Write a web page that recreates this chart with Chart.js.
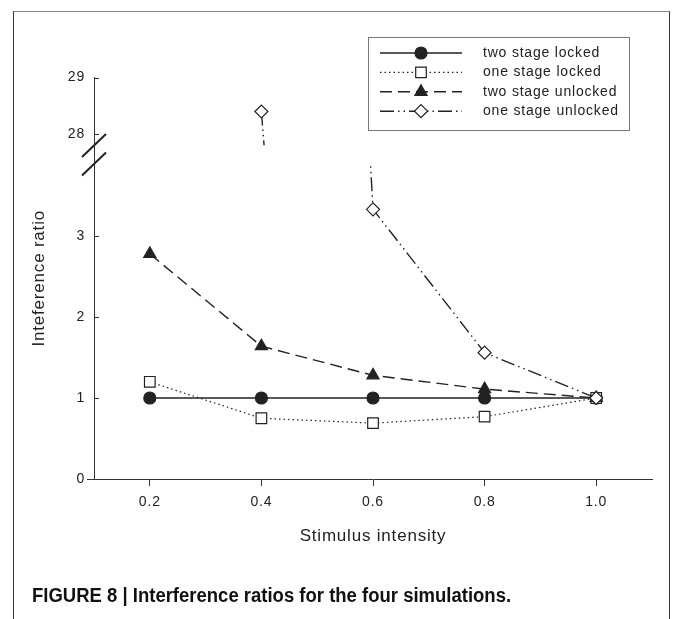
<!DOCTYPE html>
<html>
<head>
<meta charset="utf-8">
<script src="https://cdn.jsdelivr.net/npm/chart.js@4.4.1/dist/chart.umd.min.js"></script>
<style>
body { margin: 0; background: #fff; }
#wrap { position: relative; width: 673px; height: 619px; overflow: hidden; }
#frame { position: absolute; left: 13px; top: 11px; width: 655px; height: 640px; border: 1.5px solid #333; border-top-color: #888; }
canvas { position: absolute; left: 0; top: 0; }
#caption { position: absolute; left: 32px; top: 584px; font: bold 20px "Liberation Sans", Arial, sans-serif; color: #111; white-space: nowrap; transform: scaleX(0.925); transform-origin: 0 0; }
</style>
</head>
<body>
<div id="wrap">
  <div id="frame"></div>
  <canvas id="myChart" width="673" height="619"></canvas>
  <div id="caption">FIGURE 8 | Interference ratios for the four simulations.</div>
</div>
<script>
// datos
var xLabels = ['0.2', '0.4', '0.6', '0.8', '1.0'];
var twoStageLocked = [1, 1, 1, 1, 1];
var oneStageLocked = [1.2, 0.75, 0.69, 0.77, 1];
var twoStageUnlocked = [2.78, 1.64, 1.28, 1.11, 1];
var oneStageUnlocked = [null, 28.4, 3.33, 1.56, 1];
var yLowTicks = [0, 1, 2, 3];
var yHighTicks = [28, 29];

var ink = '#222';
var fontFamily = '"Liberation Sans", Arial, sans-serif';
Chart.defaults.font.family = fontFamily;
Chart.defaults.color = ink;

function series(label, data, yAxis, style) {
    return Object.assign({
        label: label,
        data: data,
        yAxisID: yAxis,
        borderColor: ink,
        pointBorderColor: ink,
        borderWidth: 1.4,
        pointBorderWidth: 1.2,
        tension: 0,
        fill: false
    }, style);
}

var diamondStyle = { borderDash: [14, 4, 1.5, 4, 1.5, 4], pointStyle: 'rectRot', pointRadius: 6.5, pointBackgroundColor: '#fff', order: 0 };

var datasets = [
    series('two stage locked', twoStageLocked, 'yLow', { pointStyle: 'circle', pointRadius: 6, pointBackgroundColor: ink, order: 3 }),
    series('one stage locked', oneStageLocked, 'yLow', { borderDash: [1.5, 3], borderWidth: 1.2, pointStyle: 'rect', pointRadius: 7.5, pointBackgroundColor: '#fff', order: 2 }),
    series('two stage unlocked', twoStageUnlocked, 'yLow', { borderDash: [12, 6], pointStyle: 'triangle', pointRadius: 7, pointBackgroundColor: ink, order: 1 }),
    series('one stage unlocked', oneStageUnlocked, 'yLow', diamondStyle),
    // misma serie en el tramo superior del eje cortado
    series('one stage unlocked', oneStageUnlocked, 'yHigh', Object.assign({ hideInLegend: true }, diamondStyle))
];

function fixedTicks(list) {
    return function(s) { s.ticks = list.map(v => ({ value: v })); };
}

var brokenAxis = {
    id: 'brokenAxis',
    beforeDraw: function(chart) {
        chart.ctx.letterSpacing = '0.8px';
    },
    beforeDatasetDraw: function(chart, args) {
        var ys = chart.scales[args.meta.yAxisID];
        var a = chart.chartArea;
        var ctx = chart.ctx;
        ctx.save();
        ctx.beginPath();
        ctx.rect(a.left - 10, ys.top, a.right - a.left + 20, ys.bottom - ys.top);
        ctx.clip();
    },
    afterDatasetDraw: function(chart) {
        chart.ctx.restore();
    },
    afterDraw: function(chart) {
        var ctx = chart.ctx;
        var a = chart.chartArea;
        var x0 = chart.scales.yLow.right;
        ctx.save();
        ctx.strokeStyle = '#333';
        ctx.lineWidth = 1;
        // marcas hacia adentro
        [['yLow', yLowTicks], ['yHigh', yHighTicks]].forEach(function(p) {
            var sc = chart.scales[p[0]];
            p[1].forEach(function(v) {
                var y = Math.round(sc.getPixelForValue(v)) + 0.5;
                ctx.beginPath();
                ctx.moveTo(x0, y);
                ctx.lineTo(x0 + 5, y);
                ctx.stroke();
            });
        });
        // el eje x sobresale un poco a la izquierda
        ctx.beginPath();
        ctx.moveTo(x0 - 7, Math.round(a.bottom) + 0.5);
        ctx.lineTo(x0, Math.round(a.bottom) + 0.5);
        ctx.stroke();
        // corte del eje
        var mid = chart.scales.yMid;
        ctx.strokeStyle = ink;
        ctx.lineWidth = 2;
        [mid.top, mid.bottom].forEach(function(y) {
            ctx.beginPath();
            ctx.moveTo(x0 - 12, y + 11.5);
            ctx.lineTo(x0 + 12, y - 11.5);
            ctx.stroke();
        });
        // titulo del eje y
        ctx.fillStyle = ink;
        ctx.font = '17px ' + fontFamily;
        ctx.textAlign = 'center';
        ctx.textBaseline = 'middle';
        ctx.translate(39, (a.top + a.bottom) / 2);
        ctx.rotate(-Math.PI / 2);
        ctx.fillText('Inteference ratio', 0, 0);
        ctx.restore();

        // leyenda
        ctx.save();
        var lx = 368.5, ly = 37.5, lw = 261, lh = 93;
        ctx.fillStyle = '#fff';
        ctx.fillRect(lx, ly, lw, lh);
        ctx.strokeStyle = '#777';
        ctx.lineWidth = 1;
        ctx.strokeRect(lx, ly, lw, lh);
        var row = 0;
        chart.data.datasets.forEach(function(ds) {
            if (ds.hideInLegend) return;
            var y = 53 + row * 19.4;
            ctx.strokeStyle = ink;
            ctx.lineWidth = ds.borderWidth;
            ctx.setLineDash(ds.borderDash || []);
            ctx.beginPath();
            ctx.moveTo(380, y);
            ctx.lineTo(462, y);
            ctx.stroke();
            ctx.setLineDash([]);
            ctx.fillStyle = ds.pointBackgroundColor;
            ctx.lineWidth = ds.pointBorderWidth;
            Chart.helpers.drawPoint(ctx, { pointStyle: ds.pointStyle, radius: ds.pointRadius, rotation: 0, borderWidth: ds.pointBorderWidth }, 421, y);
            ctx.fillStyle = ink;
            ctx.font = '14px ' + fontFamily;
            ctx.textAlign = 'left';
            ctx.textBaseline = 'middle';
            ctx.fillText(ds.label, 483, y);
            row++;
        });
        ctx.restore();
    }
};

var axisGrid = { drawOnChartArea: false, drawTicks: false };
var axisBorder = { color: '#333', width: 1 };

var ctx = document.getElementById('myChart').getContext('2d');
var chart = new Chart(ctx, {
    type: 'line',
    data: { labels: xLabels, datasets: datasets },
    plugins: [brokenAxis],
    options: {
        responsive: false,
        animation: false,
        layout: { padding: { left: 0, right: 21, top: 77.5, bottom: 70 } },
        plugins: { legend: { display: false }, tooltip: { enabled: false } },
        scales: {
            x: {
                type: 'category',
                offset: true,
                grid: { drawOnChartArea: false, drawTicks: true, tickLength: 7, color: '#333' },
                border: axisBorder,
                ticks: { padding: 8, font: { size: 14 }, maxRotation: 0 },
                title: { display: true, text: 'Stimulus intensity', font: { size: 17 }, padding: { top: 0, bottom: 2 } },
                afterFit: function(s) { s.height = 70; }
            },
            yHigh: {
                type: 'linear', position: 'left', stack: 'y', stackWeight: 68, weight: 3,
                min: 27.8, max: 29,
                grid: axisGrid, border: axisBorder,
                ticks: { padding: 9, font: { size: 14 } },
                afterBuildTicks: fixedTicks(yHighTicks),
                afterFit: function(s) { s.width = 94; }
            },
            yMid: {
                type: 'linear', position: 'left', stack: 'y', stackWeight: 18.5, weight: 2,
                min: 0, max: 1,
                grid: axisGrid, border: axisBorder,
                ticks: { display: false },
                afterBuildTicks: fixedTicks([]),
                afterFit: function(s) { s.width = 94; }
            },
            yLow: {
                type: 'linear', position: 'left', stack: 'y', stackWeight: 315, weight: 1,
                min: 0, max: 3.89,
                grid: axisGrid, border: axisBorder,
                ticks: { padding: 9, font: { size: 14 } },
                afterBuildTicks: fixedTicks(yLowTicks),
                afterFit: function(s) { s.width = 94; }
            }
        }
    }
});
</script>
</body>
</html>
